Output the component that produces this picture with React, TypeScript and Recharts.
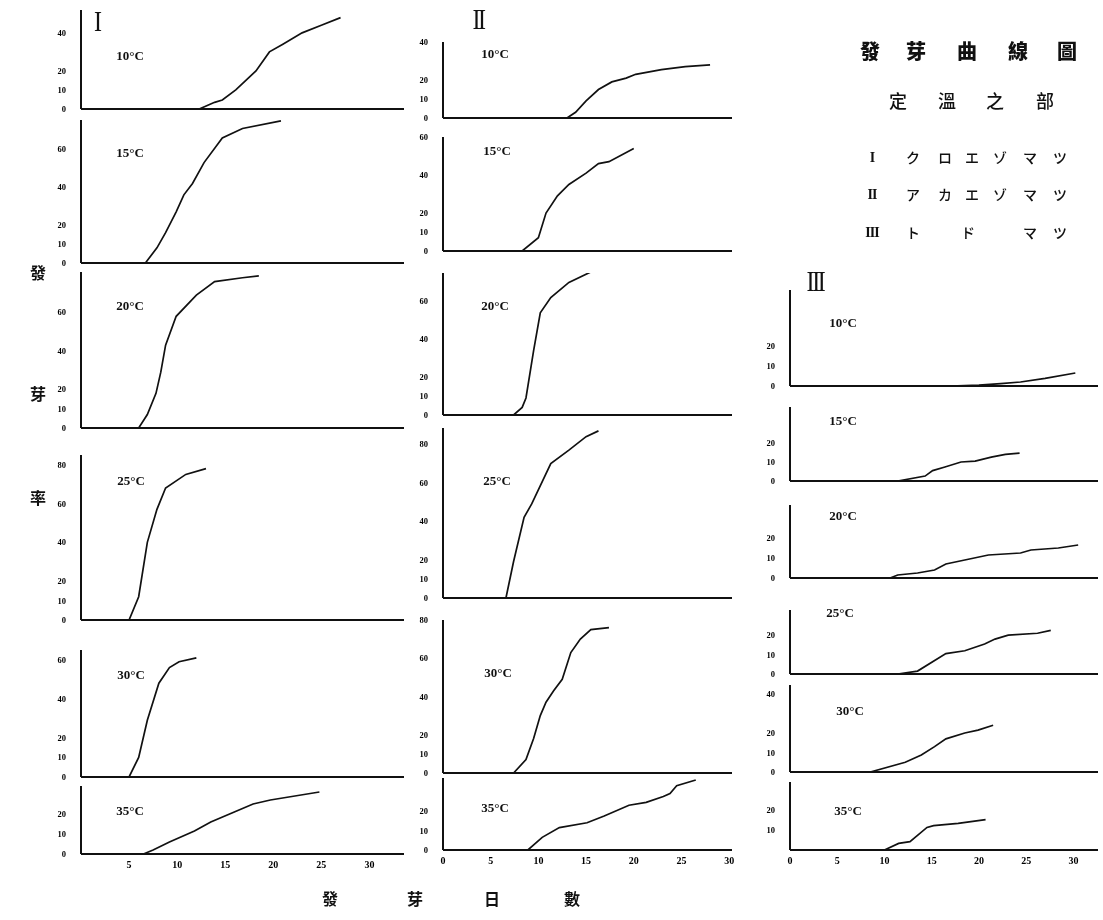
import React from "react";
import { LineChart, Line, XAxis, YAxis } from "recharts";

// germination day vs. germination rate (%)
// I  クロエゾマツ
const kuro10 = [[12.3, 0], [13.9, 3.5], [14.7, 4.7], [16.1, 10], [18.2, 20], [19.6, 30], [21, 34], [23, 40], [25, 44], [27, 48]];
const kuro15 = [[6.7, 0], [7.9, 8], [8.8, 16], [9.9, 27], [10.7, 36], [11.6, 42], [12.8, 53], [14.7, 66], [16.8, 71], [20.8, 75]];
const kuro20 = [[6, 0], [6.9, 7], [7.8, 18], [8.3, 29], [8.8, 43], [9.9, 58], [12, 69], [13.9, 76], [16.8, 78], [18.5, 79]];
const kuro25 = [[5, 0], [6, 12], [6.9, 40], [7.9, 57], [8.8, 68], [10.9, 75], [13, 78]];
const kuro30 = [[5, 0], [6, 10], [6.9, 29], [8.1, 48], [9.2, 56], [10.2, 59], [12, 61]];
const kuro35 = [[6.5, 0], [7.5, 2], [9.2, 6], [11.8, 11.5], [13.5, 16], [15.7, 20.5], [17.9, 25], [19.7, 27], [24.8, 31]];

// II アカエゾマツ
const aka10 = [[13, 0], [13.9, 3], [15, 9], [16.3, 15], [17.7, 19], [19.2, 21], [20.2, 23], [22.9, 25.5], [25.4, 27], [28, 28]];
const aka15 = [[8.3, 0], [10, 7], [10.8, 20], [12, 29], [13.2, 35], [15, 41], [16.3, 46], [17.4, 47], [20, 54]];
const aka20 = [[7.4, 0], [8.3, 4], [8.7, 9], [9.5, 34], [10.2, 54], [11.3, 62], [13.2, 70], [16.1, 77]];
const aka25 = [[6.6, 0], [7.4, 19], [8.5, 42], [9.3, 49], [11.3, 70], [13.2, 77], [15, 84], [16.3, 87]];
const aka30 = [[7.4, 0], [8.7, 7], [9.5, 18], [10.2, 30], [10.8, 37], [11.6, 43], [12.5, 49], [13.4, 63], [14.4, 70], [15.5, 75], [17.4, 76]];
const aka35 = [[8.9, 0], [10.4, 6.5], [12.2, 11.5], [15.1, 14], [16.9, 17.5], [19.5, 23], [21.3, 24.5], [23.1, 27.5], [23.8, 29], [24.5, 33], [26.5, 36]];

// III トドマツ
const todo10 = [[17, 0], [20, 0.4], [22.3, 1.2], [24.4, 2], [27, 3.8], [30.2, 6.5]];
const todo15 = [[11.4, 0], [14.3, 2.6], [15.1, 5.5], [16.4, 7.4], [18.1, 10], [19.6, 10.5], [21.3, 12.6], [22.8, 14], [24.3, 14.7]];
const todo20 = [[10.6, 0], [11.4, 1.5], [13.5, 2.5], [15.3, 4], [16.5, 7], [18.5, 9], [21, 11.5], [24.4, 12.5], [25.5, 14], [28.4, 15], [30.5, 16.5]];
const todo25 = [[11.4, 0], [13.5, 1.5], [16.5, 10.5], [18.5, 12], [20.6, 15.5], [21.7, 18], [23.1, 20], [26.2, 21], [27.6, 22.5]];
const todo30 = [[8.5, 0], [12.2, 5], [13.9, 8.7], [15.3, 13], [16.5, 17], [18.5, 20], [19.9, 21.5], [21.5, 24]];
const todo35 = [[10, 0], [11.5, 3.3], [12.7, 4.2], [14.5, 11.3], [15.2, 12.2], [17.8, 13.3], [20.7, 15.2]];

const temps = ["10°C", "15°C", "20°C", "25°C", "30°C", "35°C"];
const dayTicksI = [5, 10, 15, 20, 25, 30];
const dayTicks = [0, 5, 10, 15, 20, 25, 30];
const ticks4 = [0, 10, 20, 40];
const ticks5 = [0, 10, 20, 40, 60];
const ticks6 = [0, 10, 20, 40, 60, 80];
const ticks3 = [0, 10, 20];

const SERIF = "'Liberation Serif', 'DejaVu Serif', serif";
const CJK = "'Noto Sans CJK TC', 'Noto Sans CJK JP', sans-serif";
const CJK_JP = "'Noto Sans CJK JP', sans-serif";

const toPts = (a: number[][]) => a.map(([d, v]) => ({ d, v }));

// column geometry: plot left edge, day range and pixel width
const columns = [
  { left: 81, xMax: 33.6, width: 323, xTicks: dayTicksI },
  { left: 443, xMax: 30.3, width: 289, xTicks: dayTicks },
  { left: 790, xMax: 32.6, width: 308, xTicks: dayTicks },
];

type Row = { data: number[][]; top: number; base: number; yMax: number; yTicks: number[]; lx: number; ly: number };

const panels: Row[][] = [
  [
    { data: kuro10, top: 10, base: 109, yMax: 52, yTicks: ticks4, lx: 130, ly: 55 },
    { data: kuro15, top: 120, base: 263, yMax: 75.5, yTicks: ticks5, lx: 130, ly: 152 },
    { data: kuro20, top: 272, base: 428, yMax: 81, yTicks: ticks5, lx: 130, ly: 305 },
    { data: kuro25, top: 455, base: 620, yMax: 85, yTicks: ticks6, lx: 131, ly: 480 },
    { data: kuro30, top: 650, base: 777, yMax: 65, yTicks: ticks5, lx: 131, ly: 674 },
    { data: kuro35, top: 786, base: 854, yMax: 34, yTicks: ticks3, lx: 130, ly: 810 },
  ],
  [
    { data: aka10, top: 42, base: 118, yMax: 40, yTicks: ticks4, lx: 495, ly: 53 },
    { data: aka15, top: 137, base: 251, yMax: 60, yTicks: ticks5, lx: 497, ly: 150 },
    { data: aka20, top: 273, base: 415, yMax: 75, yTicks: ticks5, lx: 495, ly: 305 },
    { data: aka25, top: 428, base: 598, yMax: 88.5, yTicks: ticks6, lx: 497, ly: 480 },
    { data: aka30, top: 620, base: 773, yMax: 80, yTicks: ticks6, lx: 498, ly: 672 },
    { data: aka35, top: 778, base: 850, yMax: 37, yTicks: ticks3, lx: 495, ly: 807 },
  ],
  [
    { data: todo10, top: 290, base: 386, yMax: 48, yTicks: ticks3, lx: 843, ly: 322 },
    { data: todo15, top: 407, base: 481, yMax: 39, yTicks: ticks3, lx: 843, ly: 420 },
    { data: todo20, top: 505, base: 578, yMax: 36.5, yTicks: ticks3, lx: 843, ly: 515 },
    { data: todo25, top: 610, base: 674, yMax: 33, yTicks: ticks3, lx: 840, ly: 612 },
    { data: todo30, top: 685, base: 772, yMax: 44.6, yTicks: [0, 10, 20, 40], lx: 850, ly: 710 },
    { data: todo35, top: 782, base: 850, yMax: 34, yTicks: [10, 20], lx: 848, ly: 810 },
  ],
];

const YW = 36;
const MT = 8;
const MR = 4;
const XH = 22;

function Panel({ col, row, last }: { col: (typeof columns)[number]; row: Row; last: boolean }) {
  const plotH = row.base - row.top;
  return (
    <div style={{ position: "absolute", left: col.left - YW, top: row.top - MT, willChange: "transform" }}>
      <LineChart
        width={YW + col.width + MR}
        height={MT + plotH + XH}
        data={toPts(row.data)}
        margin={{ top: MT, right: MR, left: 0, bottom: 0 }}
      >
        <XAxis
          type="number"
          dataKey="d"
          domain={[0, col.xMax]}
          ticks={col.xTicks}
          interval={0}
          allowDataOverflow
          height={XH}
          axisLine={{ stroke: "#111", strokeWidth: 2 }}
          tickLine={false}
          tickSize={0}
          tickMargin={7}
          tick={last ? { fontSize: 10, fontWeight: 700, fill: "#000", fontFamily: SERIF } : false}
        />
        <YAxis
          type="number"
          domain={[0, row.yMax]}
          ticks={row.yTicks}
          interval={0}
          allowDataOverflow
          width={YW}
          axisLine={{ stroke: "#111", strokeWidth: 2 }}
          tickLine={false}
          tickSize={0}
          tickMargin={15}
          tick={{ fontSize: 8.5, fontWeight: 700, fill: "#000", fontFamily: SERIF }}
        />
        <Line
          type="linear"
          dataKey="v"
          stroke="#111"
          strokeWidth={1.7}
          dot={false}
          isAnimationActive={false}
        />
      </LineChart>
    </div>
  );
}

const legendRows = [
  { num: "I", chars: ["ク", "ロ", "エ", "ゾ", "マ", "ツ"], xs: [913, 945, 972, 1000, 1030, 1060], y: 157 },
  { num: "II", chars: ["ア", "カ", "エ", "ゾ", "マ", "ツ"], xs: [913, 945, 972, 1000, 1030, 1060], y: 194 },
  { num: "III", chars: ["ト", "ド", "マ", "ツ"], xs: [913, 968, 1030, 1060], y: 232 },
];

export default function App() {
  return (
    <div style={{ position: "absolute", left: 0, top: 0, width: 1103, height: 920, background: "#fff", overflow: "hidden" }}>
      {columns.map((col, ci) =>
        panels[ci].map((row, ri) => (
          <Panel key={`${ci}-${ri}`} col={col} row={row} last={ri === panels[ci].length - 1} />
        ))
      )}
      <svg width={1103} height={920} style={{ position: "absolute", left: 0, top: 0, pointerEvents: "none" }}>
        {panels.map((rows, ci) =>
          rows.map((row, ri) => (
            <text
              key={`t-${ci}-${ri}`}
              x={row.lx}
              y={row.ly}
              textAnchor="middle"
              dominantBaseline="central"
              fontFamily={SERIF}
              fontWeight={700}
              fontSize={13}
              fill="#111"
            >
              {temps[ri]}
            </text>
          ))
        )}
        {/* column numerals */}
        <text x={98} y={21} textAnchor="middle" dominantBaseline="central" fontFamily={SERIF} fontSize={30} fill="#111" transform="translate(98 21) scale(0.8 1) translate(-98 -21)">I</text>
        <text x={478} y={19} textAnchor="middle" dominantBaseline="central" fontFamily={SERIF} fontSize={30} letterSpacing={-3} fill="#111" transform="translate(478 19) scale(0.8 1) translate(-478 -19)">II</text>
        <text x={815} y={281} textAnchor="middle" dominantBaseline="central" fontFamily={SERIF} fontSize={30} letterSpacing={-3} fill="#111" transform="translate(815 281) scale(0.8 1) translate(-815 -281)">III</text>

        {/* title */}
        {["發", "芽", "曲", "線", "圖"].map((c, i) => (
          <text key={c} x={[870, 916, 967, 1018, 1067][i]} y={50} textAnchor="middle" dominantBaseline="central" fontFamily={CJK} fontWeight={900} fontSize={20} fill="#111">{c}</text>
        ))}
        {["定", "溫", "之", "部"].map((c, i) => (
          <text key={c} x={[898, 947, 995, 1045][i]} y={100} textAnchor="middle" dominantBaseline="central" fontFamily={CJK} fontWeight={500} fontSize={18} fill="#111">{c}</text>
        ))}
        {legendRows.map((r) => (
          <g key={r.num}>
            <text x={872} y={r.y} textAnchor="middle" dominantBaseline="central" fontFamily={SERIF} fontWeight={700} fontSize={14} letterSpacing={-1} fill="#111">{r.num}</text>
            {r.chars.map((c, i) => (
              <text key={i} x={r.xs[i]} y={r.y} textAnchor="middle" dominantBaseline="central" fontFamily={CJK_JP} fontWeight={500} fontSize={14} fill="#111">{c}</text>
            ))}
          </g>
        ))}

        {/* axis titles */}
        {["發", "芽", "率"].map((c, i) => (
          <text key={c} x={38} y={[272, 393, 497][i]} textAnchor="middle" dominantBaseline="central" fontFamily={CJK} fontWeight={700} fontSize={16} fill="#111">{c}</text>
        ))}
        {["發", "芽", "日", "數"].map((c, i) => (
          <text key={c} x={[330, 415, 492, 572][i]} y={898} textAnchor="middle" dominantBaseline="central" fontFamily={CJK} fontWeight={700} fontSize={16} fill="#111">{c}</text>
        ))}
      </svg>
    </div>
  );
}
